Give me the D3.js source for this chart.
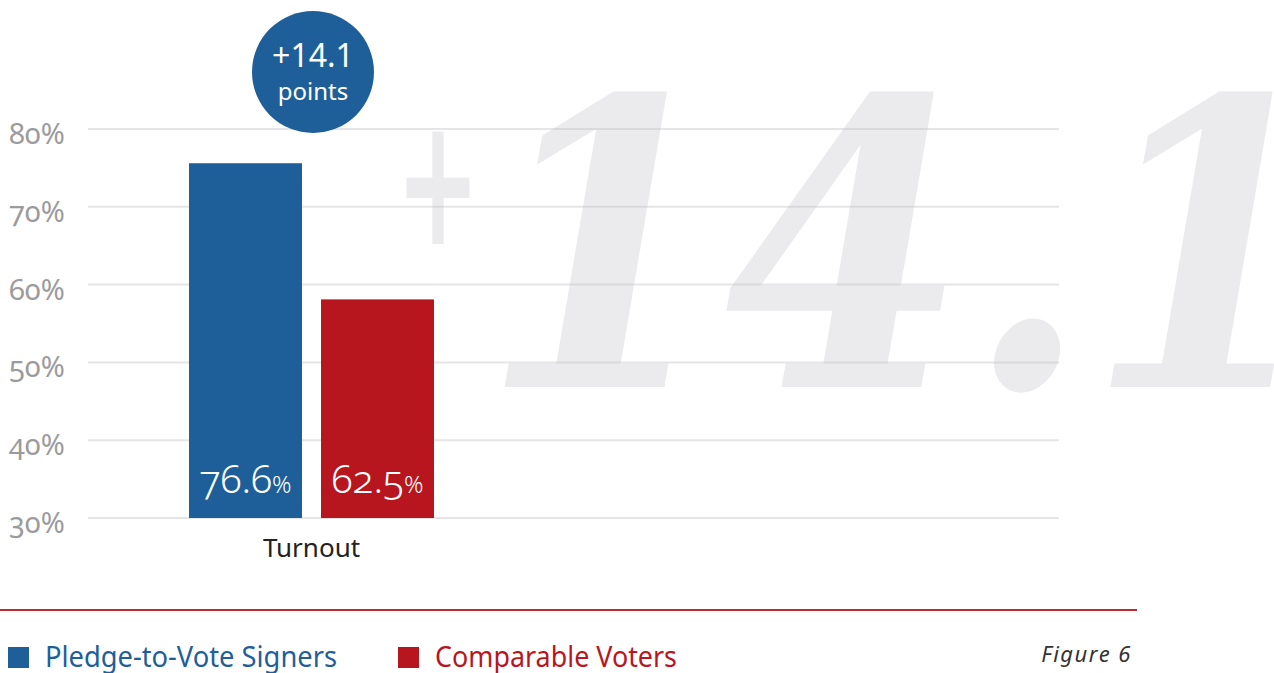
<!DOCTYPE html>
<html>
<head>
<meta charset="utf-8">
<script src="https://cdn.jsdelivr.net/npm/d3@7"></script>
<style>
  body { margin: 0; background: #fff; }
  svg { display: block; }
  .num { font-variant-numeric: oldstyle-nums; }
</style>
</head>
<body>
<div id="chart"></div>
<script>
var categories = ["Turnout"];
var seriesNames = ["Pledge-to-Vote Signers", "Comparable Voters"];
var seriesColors = ["#1f5f99", "#b8161e"];
// bar heights as drawn in the figure, and the labels printed on them
var barHeights = [75.6, 58.1];
var barLabels = ["76.6", "62.5"];
var yTicks = [30, 40, 50, 60, 70, 80];
var diffText = "+14.1";

var W = 1274, H = 673;

var svg = d3.select("#chart")
  .append("svg")
  .attr("width", W)
  .attr("height", H);

var y = d3.scaleLinear().domain([30, 80]).range([518, 129]);

var x0 = d3.scaleBand().domain(categories).range([189, 434]);
var x1 = d3.scaleBand().domain(seriesNames).range([0, x0.bandwidth()]).paddingInner(0.144);

// big watermark number behind the grid
var wm = svg.append("g").attr("fill", "#ebebed")
  .style("font-family", "'DejaVu Serif'")
  .style("font-style", "italic")
  .style("font-weight", "bold");
wm.append("text")
  .attr("x", 396).attr("y", 244)
  .attr("textLength", 84)
  .attr("lengthAdjust", "spacingAndGlyphs")
  .style("font-size", "180px")
  .text(diffText.slice(0, 1));
wm.append("text")
  .attr("x", 482).attr("y", 387)
  .attr("textLength", 848)
  .attr("lengthAdjust", "spacingAndGlyphs")
  .style("font-size", "398px")
  .text(diffText.slice(1));

// grid
svg.append("g")
  .selectAll("line")
  .data(yTicks)
  .enter()
  .append("line")
  .attr("x1", 88).attr("x2", 1059)
  .attr("y1", function (d) { return y(d); })
  .attr("y2", function (d) { return y(d); })
  .attr("stroke", "rgba(190,190,194,0.4)")
  .attr("stroke-width", 2);

// y labels
svg.append("g")
  .selectAll("text")
  .data(yTicks)
  .enter()
  .append("text")
  .attr("class", "num")
  .attr("x", 9)
  .attr("y", function (d) { return y(d) + 15; })
  .attr("fill", "#9b9b9e")
  .style("font-family", "'Noto Sans'")
  .style("font-size", "29px")
  .text(function (d) { return d + "%"; });

// bars
var bars = svg.append("g")
  .selectAll("g")
  .data(categories)
  .enter()
  .append("g")
  .attr("transform", function (d) { return "translate(" + x0(d) + ",0)"; });

bars.selectAll("rect")
  .data(function () { return seriesNames.map(function (s, i) { return { s: s, v: barHeights[i], c: seriesColors[i] }; }); })
  .enter()
  .append("rect")
  .attr("x", function (d) { return x1(d.s); })
  .attr("width", x1.bandwidth())
  .attr("y", function (d) { return y(d.v); })
  .attr("height", function (d) { return y(30) - y(d.v); })
  .attr("fill", function (d) { return d.c; });

var lab = bars.selectAll("text.val")
  .data(function () { return seriesNames.map(function (s, i) { return { s: s, t: barLabels[i] }; }); })
  .enter()
  .append("text")
  .attr("class", "val num")
  .attr("x", function (d) { return x1(d.s) + x1.bandwidth() / 2; })
  .attr("y", 493)
  .attr("text-anchor", "middle")
  .attr("fill", "#fff")
  .style("font-family", "'Noto Sans'")
  .style("font-weight", 300);
lab.append("tspan").style("font-size", "39px").text(function (d) { return d.t; });
lab.append("tspan").style("font-size", "24px").text("%");

// category label
svg.append("g")
  .selectAll("text")
  .data(categories)
  .enter()
  .append("text")
  .attr("x", function (d) { return x0(d) + x0.bandwidth() / 2; })
  .attr("y", 557)
  .attr("text-anchor", "middle")
  .attr("fill", "#222")
  .style("font-family", "'Noto Sans'")
  .style("font-size", "26px")
  .text(function (d) { return d; });

// difference badge
var badge = svg.append("g").attr("transform", "translate(313,72)");
badge.append("circle").attr("r", 61).attr("fill", "#1f5f99");
badge.append("text")
  .attr("y", -5)
  .attr("text-anchor", "middle")
  .attr("fill", "#fff")
  .style("font-family", "'Noto Sans'")
  .style("font-size", "32px")
  .text(diffText);
badge.append("text")
  .attr("y", 28)
  .attr("text-anchor", "middle")
  .attr("fill", "#fff")
  .style("font-family", "'Noto Sans'")
  .style("font-size", "24px")
  .text("points");

// footer rule
svg.append("line")
  .attr("x1", 0).attr("x2", 1137)
  .attr("y1", 610).attr("y2", 610)
  .attr("stroke", "#c0282d")
  .attr("stroke-width", 2);

// legend
var legX = [8, 398];
var legW = [292, 242];
var leg = svg.append("g")
  .selectAll("g")
  .data(seriesNames)
  .enter()
  .append("g")
  .attr("transform", function (d, i) { return "translate(" + legX[i] + ",647)"; });
leg.append("rect")
  .attr("width", 21).attr("height", 21)
  .attr("fill", function (d, i) { return seriesColors[i]; });
leg.append("text")
  .attr("x", 37).attr("y", 20)
  .attr("textLength", function (d, i) { return legW[i]; })
  .attr("lengthAdjust", "spacingAndGlyphs")
  .attr("fill", function (d, i) { return seriesColors[i]; })
  .style("font-family", "'Noto Sans'")
  .style("font-size", "29px")
  .text(function (d) { return d; });

svg.append("text")
  .attr("x", 1132).attr("y", 662)
  .attr("text-anchor", "end")
  .attr("fill", "#333")
  .style("font-family", "'Noto Sans'")
  .style("font-style", "italic")
  .style("font-size", "22px")
  .style("letter-spacing", "1.5px")
  .text("Figure 6");
</script>
</body>
</html>
